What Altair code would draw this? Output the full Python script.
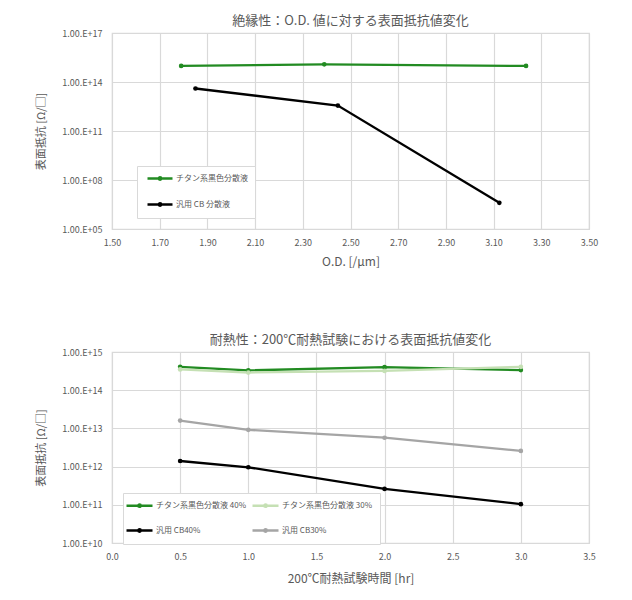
import altair as alt
import pandas as pd

FONT = "Noto Sans CJK JP"
TXT = "#595959"
GRID = "#d9d9d9"

# ---- Chart 1 data ----
od_series = ["チタン系黒色分散液", "汎用 CB 分散液"]
od_titan_x = [1.79, 2.39, 3.236]
od_titan_y = [9.6e14, 1.2e15, 9.6e14]
od_cb_x = [1.85, 2.447, 3.124]
od_cb_y = [4.0e13, 3.6e12, 4.0e6]
od_colors = ["#228B22", "#000000"]
od_x_ticks = [1.5, 1.7, 1.9, 2.1, 2.3, 2.5, 2.7, 2.9, 3.1, 3.3, 3.5]
od_y_ticks = [1e5, 1e8, 1e11, 1e14, 1e17]

# ---- Chart 2 data ----
heat_series = ["チタン系黒色分散液 40%", "チタン系黒色分散液 30%", "汎用 CB40%", "汎用 CB30%"]
heat_x = [0.5, 1.0, 2.0, 3.0]
heat_titan40 = [4.1e14, 3.3e14, 4.0e14, 3.36e14]
heat_titan30 = [3.5e14, 2.9e14, 3.2e14, 4.1e14]
heat_cb40 = [1.4e12, 9.6e11, 2.6e11, 1.04e11]
heat_cb30 = [1.6e13, 9.2e12, 5.7e12, 2.57e12]
heat_colors = ["#228B22", "#C5E0B4", "#000000", "#A5A5A5"]
heat_x_ticks = [0.0, 0.5, 1.0, 1.5, 2.0, 2.5, 3.0, 3.5]
heat_y_ticks = [1e10, 1e11, 1e12, 1e13, 1e14, 1e15]

df1 = pd.DataFrame(
    [{"series": od_series[0], "x": x, "y": y} for x, y in zip(od_titan_x, od_titan_y)]
    + [{"series": od_series[1], "x": x, "y": y} for x, y in zip(od_cb_x, od_cb_y)]
)
rows = []
for i, ys in enumerate([heat_titan40, heat_titan30, heat_cb40, heat_cb30]):
    for x, y in zip(heat_x, ys):
        rows.append({"series": heat_series[i], "x": x, "y": y})
df2 = pd.DataFrame(rows)

ylabel_expr = "'1.00.E+' + (round(log(datum.value)/LN10) < 10 ? '0' : '') + round(log(datum.value)/LN10)"

def yaxis(vals):
    return alt.Axis(values=vals, labelExpr=ylabel_expr, title="表面抵抗 [Ω/□]",
                    domain=False, ticks=False, labelPadding=10, titlePadding=15,
                    labelFontSize=9, titleFontSize=11, labelColor=TXT, titleColor=TXT,
                    titleFontWeight="normal", gridColor=GRID, gridWidth=1.2)

def xaxis(vals, fmt, title, tpad):
    return alt.Axis(values=vals, format=fmt, title=title, domain=False, ticks=False,
                    labelPadding=9, titlePadding=tpad, labelFontSize=9, titleFontSize=12,
                    labelColor=TXT, titleColor=TXT, titleFontWeight="normal",
                    gridColor=GRID, gridWidth=1.2, labelFlush=False)

sym1 = "M-0.5,0L5.75,0M2.325,0A0.3,0.3,0,1,1,2.925,0A0.3,0.3,0,1,1,2.325,0"
legend1 = alt.Legend(title=None, orient="none", legendX=25, legendY=133,
                     symbolType=sym1, symbolSize=64, symbolStrokeWidth=2.5,
                     labelOffset=21, labelFontSize=8, labelColor=TXT, labelFont=FONT,
                     padding=7, rowPadding=13, fillColor="white", strokeColor=GRID,
                     labelLimit=300)

c1 = alt.Chart(df1).mark_line(
    strokeWidth=2.3, point=alt.OverlayMarkDef(filled=True, size=22)
).encode(
    x=alt.X("x:Q", scale=alt.Scale(domain=[1.5, 3.5], nice=False, zero=False),
            axis=xaxis(od_x_ticks, ".2f", "O.D. [/µm]", 9)),
    y=alt.Y("y:Q", scale=alt.Scale(type="log", domain=[1e5, 1e17], nice=False),
            axis=yaxis(od_y_ticks)),
    color=alt.Color("series:N", scale=alt.Scale(domain=od_series, range=od_colors),
                    legend=legend1),
    order="x:Q",
).properties(
    width=477, height=196,
    title=alt.Title("絶縁性：O.D. 値に対する表面抵抗値変化", fontSize=13, color=TXT,
                    fontWeight="normal", font=FONT, offset=1),
)

sym2 = "M-2.25,0L4.25,0M0.7,0A0.3,0.3,0,1,1,1.3,0A0.3,0.3,0,1,1,0.7,0"
legend2 = alt.Legend(title=None, orient="none", legendX=11, legendY=141, columns=2,
                     direction="horizontal",
                     symbolType=sym2, symbolSize=64, symbolStrokeWidth=2.5,
                     labelOffset=15, labelFontSize=8, labelColor=TXT, labelFont=FONT,
                     padding=7, rowPadding=12, columnPadding=0,
                     fillColor="white", strokeColor=GRID, labelLimit=300)

c2 = alt.Chart(df2).mark_line(
    strokeWidth=2.3, point=alt.OverlayMarkDef(filled=True, size=22)
).encode(
    x=alt.X("x:Q", scale=alt.Scale(domain=[0, 3.5], nice=False),
            axis=xaxis(heat_x_ticks, ".1f", "200℃耐熱試験時間 [hr]", 12)),
    y=alt.Y("y:Q", scale=alt.Scale(type="log", domain=[1e10, 1e15], nice=False),
            axis=yaxis(heat_y_ticks)),
    color=alt.Color("series:N", scale=alt.Scale(domain=heat_series, range=heat_colors),
                    legend=legend2),
    order="x:Q",
).properties(
    width=477, height=191,
    title=alt.Title("耐熱性：200℃耐熱試験における表面抵抗値変化", fontSize=13, color=TXT,
                    fontWeight="normal", font=FONT, offset=1),
)

chart = alt.vconcat(c1, c2, spacing=65).resolve_scale(color="independent").configure(
    font=FONT,
    padding={"left": 35, "top": 14, "right": 5, "bottom": 5},
).configure_view(stroke=GRID, strokeWidth=1.2)

chart.save("out.html", embed_options={"renderer": "svg", "actions": False})
